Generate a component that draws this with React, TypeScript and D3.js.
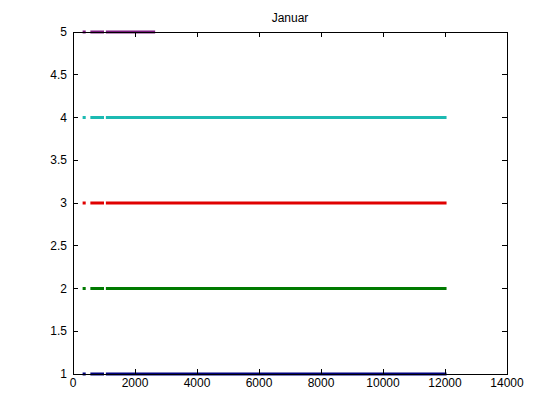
import React from "react";
import * as d3 from "d3";

const title = "Januar";
const xTicks = [0, 2000, 4000, 6000, 8000, 10000, 12000, 14000];
const yTicks = [1, 1.5, 2, 2.5, 3, 3.5, 4, 4.5, 5];
const seriesLevels = [1, 2, 3, 4, 5];
const seriesColors = ["#00007f", "#007a00", "#e00000", "#1cbab2", "#7d1a80"];
// each series: runs of points [start, end] along x
const seriesRuns = [
  [[310, 410], [560, 1000], [1060, 12050]],
  [[310, 410], [560, 1000], [1060, 12050]],
  [[310, 410], [560, 1000], [1060, 12050]],
  [[310, 410], [560, 1000], [1060, 12050]],
  [[310, 410], [560, 1000], [1060, 2650]],
];

export default function App() {
  const W = 560, H = 420;
  const left = 73, right = 507, top = 32, bottom = 374;
  const x = d3.scaleLinear().domain([0, 14000]).range([left, right]);
  const y = d3.scaleLinear().domain([1, 5]).range([bottom, top]);
  const font = "'Liberation Sans', Arial, sans-serif";
  const fs = 12;
  const tl = 5;
  return (
    <svg width={W} height={H} style={{ position: "absolute", left: 0, top: 0, background: "#fff" }}>
      <rect x={0} y={0} width={W} height={H} fill="#fff" />
      {seriesRuns.map((runs, i) =>
        runs.map((r, j) => (
          <line key={`${i}-${j}`} x1={x(r[0])} x2={x(r[1])} y1={y(seriesLevels[i])} y2={y(seriesLevels[i])}
            stroke={seriesColors[i]} strokeWidth={3} />
        ))
      )}
      <rect x={left} y={top} width={right - left} height={bottom - top} fill="none" stroke="#000" strokeWidth={1} shapeRendering="crispEdges" />
      {xTicks.map((t) => (
        <g key={`x${t}`}>
          <line x1={x(t)} x2={x(t)} y1={bottom} y2={bottom - tl} stroke="#000" shapeRendering="crispEdges" />
          <line x1={x(t)} x2={x(t)} y1={top} y2={top + tl} stroke="#000" shapeRendering="crispEdges" />
          <text x={x(t)} y={bottom + 13} fontSize={fs} fontFamily={font} textAnchor="middle">{t}</text>
        </g>
      ))}
      {yTicks.map((t) => (
        <g key={`y${t}`}>
          <line x1={left} x2={left + tl} y1={y(t)} y2={y(t)} stroke="#000" shapeRendering="crispEdges" />
          <line x1={right} x2={right - tl} y1={y(t)} y2={y(t)} stroke="#000" shapeRendering="crispEdges" />
          <text x={left - 6} y={y(t) + 4} fontSize={fs} fontFamily={font} textAnchor="end">{t}</text>
        </g>
      ))}
      <text x={(left + right) / 2} y={22} fontSize={fs} fontFamily={font} textAnchor="middle">{title}</text>
    </svg>
  );
}
